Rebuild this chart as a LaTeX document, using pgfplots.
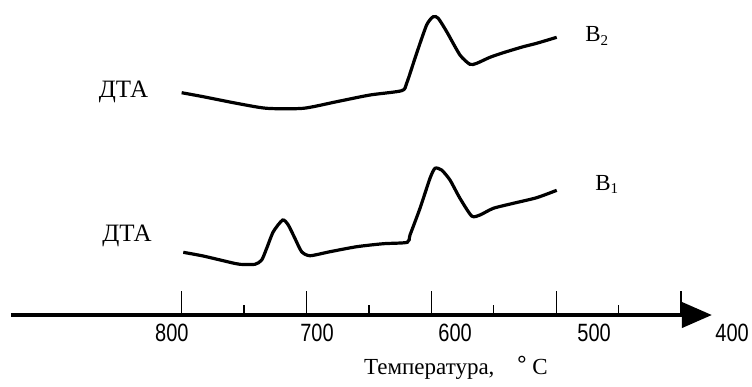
\documentclass[border=0pt]{standalone}
\usepackage{fontspec}
\setmainfont{Liberation Serif}
\newfontfamily\digitfont[FakeStretch=0.8]{Liberation Sans}
\usepackage{pgfplots}
\pgfplotsset{compat=1.18}
\usetikzlibrary{arrows.meta}
\newcommand{\sub}[1]{\raisebox{-0.35ex}{\fontsize{7.5}{8}\selectfont #1}}

\begin{document}
\begin{tikzpicture}
\begin{axis}[
  x=0.62425pt, y=0.5pt,
  x dir=reverse,
  xmin=343.2, xmax=945.5, ymin=68, ymax=383,
  axis x line*=bottom, hide y axis,
  x axis line style={draw=none},
  xtick={800,700,600,500,400},
  minor xtick={750,650,550,450},
  xticklabels={},
  xtick align=inside,
  major tick length=12pt, minor tick length=5pt,
  every tick/.style={black, line width=0.6pt},
  extra x ticks={807.8,691.6,581.0,469.6,359.1},
  extra x tick labels={800,700,600,500,400},
  extra x tick style={major tick length=0pt, tick style={draw=none}},
  xticklabel style={font=\digitfont\fontsize{12.5}{13}\selectfont, inner sep=0pt, anchor=north, yshift=-4.5pt},
  clip=false,
]
% upper curve (B2)
\addplot[black, line width=1.6pt, smooth, tension=0.4] coordinates {
(800.0,290.3) (782.7,286.3) (756.0,279.7) (731.9,274.7) (702.6,274.7)
(675.9,281.3) (649.2,288.0) (623.8,292.3) (619.8,299.7) (611.8,329.7)
(603.8,358.0) (598.5,366.3) (594.5,364.7) (587.7,351.3) (577.1,328.0)
(569.1,318.7) (563.7,319.7) (553.1,325.7) (542.4,330.3) (526.4,336.3)
(515.7,339.7) (499.6,345.7)
};
% lower curve (B1)
\addplot[black, line width=1.6pt, smooth, tension=0.4] coordinates {
(798.7,130.7) (782.7,127.0) (761.3,120.7) (753.3,118.7) (741.3,118.7)
(735.9,123.0) (731.9,134.7) (726.6,151.3) (719.1,163.0) (714.6,158.0)
(709.3,144.7) (703.9,131.3) (697.2,127.3) (681.2,131.3) (659.8,136.3)
(638.5,139.3) (619.3,140.7) (617.1,148.0) (609.1,174.7) (601.1,204.7)
(597.1,214.7) (591.8,213.0) (585.1,203.0) (577.1,184.7) (567.7,167.0)
(561.1,168.0) (550.4,174.7) (534.4,179.7) (515.7,185.3) (499.6,192.7)
};
\node[font=\fontsize{12.5}{13}\selectfont] at (axis cs:846.6,291) {ДТА};
\node[font=\fontsize{12.5}{13}\selectfont] at (axis cs:843.8,147) {ДТА};
\node[anchor=base west, inner sep=0pt, font=\fontsize{11.5}{12}\selectfont] at (axis cs:477,341.3) {В\sub{2}};
\node[anchor=base west, inner sep=0pt, font=\fontsize{11.5}{12}\selectfont] at (axis cs:469,193) {В\sub{1}};
\node[font=\fontsize{11.5}{12}\selectfont] at (axis cs:580.3,15) {Температура,\quad\raisebox{0.3ex}{\bfseries °} C};
\draw[line width=2pt, -{Triangle[length=15pt,width=12.5pt]}] (axis cs:936.7,68) -- (axis cs:375.3,68);
\path (axis cs:945.5,0) rectangle (axis cs:343.2,383);
\end{axis}
\end{tikzpicture}
\end{document}
